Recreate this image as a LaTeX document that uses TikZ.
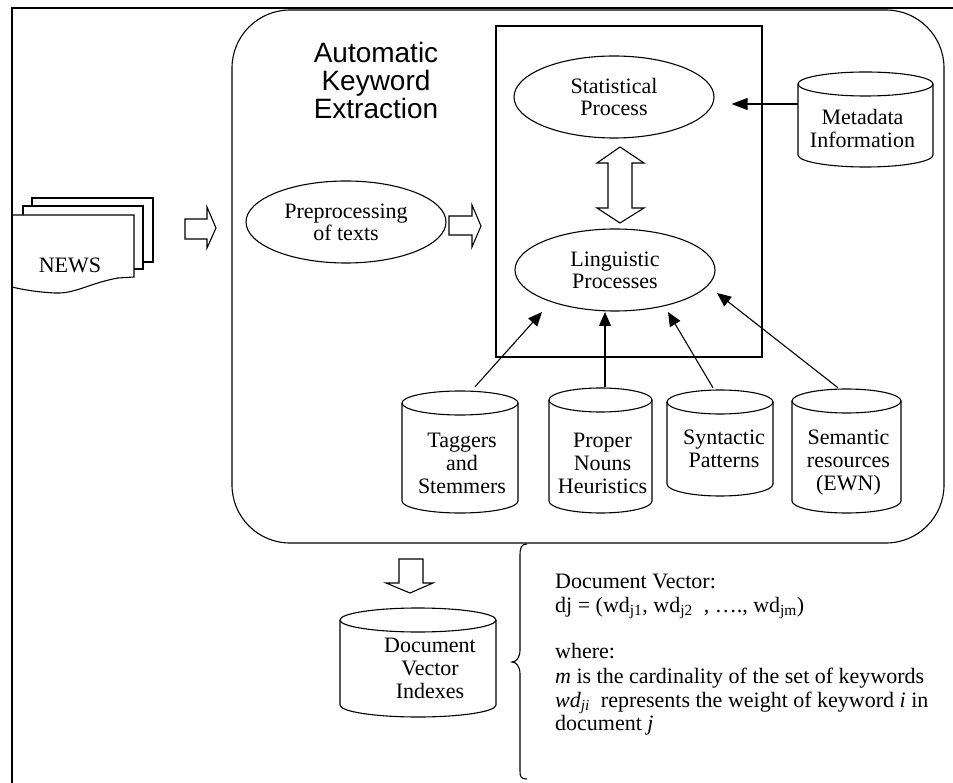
\documentclass[tikz,border=0pt]{standalone}
\usepackage{fontspec}
\setmainfont{Liberation Serif}
\newfontfamily\arialfont{Liberation Sans}
\usetikzlibrary{arrows.meta,shapes.geometric,calc}
\tikzset{
  ln/.style={line width=1.1pt},
  lbl/.style={font=\fontsize{22}{23}\selectfont, align=center, inner sep=0pt},
  txt/.style={font=\fontsize{22}{23}\selectfont, inner sep=0pt, anchor=base west},
  ell/.style={draw, ln, ellipse, minimum width=200pt, minimum height=82pt, inner sep=0pt, align=center, font=\fontsize{22}{22}\selectfont},
  arr/.style={ln, -{Triangle[length=14pt,width=12pt]}},
  fat/.style={ln, fill=white, line join=miter},
  framestyle/.style={line width=2.6pt, line join=miter},
}
% name, left, right, top, bottom, text x offset, text y, text
\newcommand\mycyl[8]{%
  \pgfmathsetmacro\mcx{(#2+#3)/2}%
  \pgfmathsetmacro\mrx{(#3-#2)/2}%
  \pgfmathsetmacro\mcy{(#4+#5)/2}%
  \pgfmathsetmacro\mch{#5-#4}%
  \pgfmathsetmacro\mcw{#3-#2}%
  \node[minimum width=\mcw pt, minimum height=\mch pt, inner sep=0pt] (#1) at (\mcx,\mcy) {};
  \node[lbl] (#1t) at (\mcx+#6,#7) {#8};
  \draw[ln] (\mcx,#4+12) ellipse [x radius=\mrx pt, y radius=12pt];
  \draw[ln] (#2,#4+12) -- (#2,#5-12) arc [start angle=180, end angle=360, x radius=\mrx pt, y radius=12pt] -- (#3,#4+12);
}
\begin{document}
\begin{tikzpicture}[x=1pt,y=-1pt]
\useasboundingbox (0,0) rectangle (953,783);

% NEWS stack
\draw[ln, fill=white] (32,198) rectangle (153,262);
\draw[ln, fill=white] (23,206) rectangle (143,269);
\draw[ln, fill=white] (12,215) -- (134,215) -- (134,277) -- (118,278)
  .. controls (90,283) and (75,294) .. (55,293)
  .. controls (35,292) and (20,289) .. (12,287) -- cycle;
\node[lbl] (news) at (70,265) {NEWS};

% outer frame
\draw[framestyle] (12,783) -- (12,8) -- (953,8);

% big rounded box
\node[draw, ln, rounded corners=58pt, minimum width=712pt, minimum height=533pt, inner sep=0pt] (ake) at (588,276.5) {};
\node[font=\arialfont\fontsize{28}{28}\selectfont, align=center, inner sep=0pt] (title) at (376,80) {Automatic\\Keyword\\Extraction};

% inner process box
\node[draw, ln, minimum width=266pt, minimum height=331pt, inner sep=0pt] (proc) at (629,191.5) {};

% ellipses
\node[ell] (stat) at (614,97) {Statistical\\Process};
\node[ell] (ling) at (615,270) {Linguistic\\Processes};
\node[ell] (pre) at (346,222) {Preprocessing\\of texts};

% cylinders
\mycyl{meta}{798}{933}{72}{167}{-3}{128}{Metadata\\Information}
\mycyl{tag}{402}{518}{391}{513}{2}{463}{Taggers\\and\\Stemmers}
\mycyl{prop}{549}{652}{388}{513}{2}{463}{Proper\\Nouns\\Heuristics}
\mycyl{syn}{667}{773}{390}{496}{4}{449}{Syntactic\\Patterns}
\mycyl{sem}{792}{901}{389}{513}{2}{463}{Semantic\\resources\\(EWN)}
\mycyl{dvi}{340}{496}{608}{717}{12}{668}{Document\\Vector\\Indexes}

% thin arrows
\draw[ln, -{Triangle[length=16pt,width=12pt]}] ([yshift=15.5pt]meta.west) -- ($(stat.east)+(17,7)$);
\draw[arr] ([shift={(15,-4)}]tag.north) -- ($(ling)+(-73,42)$);
\draw[arr] ([shift={(4.5,-1)}]prop.north) -- ($(ling)+(-10,42)$);
\draw[arr] ([shift={(-7,-2)}]syn.north) -- ($(ling)+(53,42)$);
\draw[arr] ([shift={(-8.5,-1)}]sem.north) -- ($(ling)+(102,23)$);

% hollow block arrows
\draw[fat] (185,219) -- (207,219) -- (207,207) -- (216,228) -- (207,248) -- (207,239) -- (185,239) -- cycle;
\draw[fat] (449,216) -- (472,216) -- (472,205) -- (481,226) -- (472,247) -- (472,235) -- (449,235) -- cycle;
\draw[fat] (620,147) -- (644,163) -- (632,163) -- (632,208) -- (644,208) -- (620,223)
  -- (597,208) -- (608,208) -- (608,163) -- (597,163) -- cycle;
\draw[fat] (399,559) -- (423,559) -- (423,583) -- (433,583) -- (410,593) -- (386,583) -- (399,583) -- cycle;

% brace
\draw[ln] (527,544) .. controls (521,544) and (520,548) .. (520,556) -- (520,650)
  .. controls (520,658) and (516,662) .. (512,662)
  .. controls (516,662) and (520,666) .. (520,674) -- (520,771)
  .. controls (520,777) and (521,779) .. (527,779);

% explanation text
\node[txt] (dv1) at (555,588) {Document Vector:};
\node[txt] (dv2) at (555,612) {dj = (wd\textsubscript{j1}, wd\textsubscript{j2}\ \ , …., wd\textsubscript{jm})};
\node[txt] (dv3) at (555,658) {where:};
\node[txt] (dv4) at (555,683) {\textit{m} is the cardinality of the set of keywords};
\node[txt] (dv5) at (555,707) {\textit{wd\textsubscript{ji}}\ \ represents the weight of keyword \textit{i} in};
\node[txt] (dv6) at (555,730) {document \textit{j}};
\end{tikzpicture}
\end{document}
